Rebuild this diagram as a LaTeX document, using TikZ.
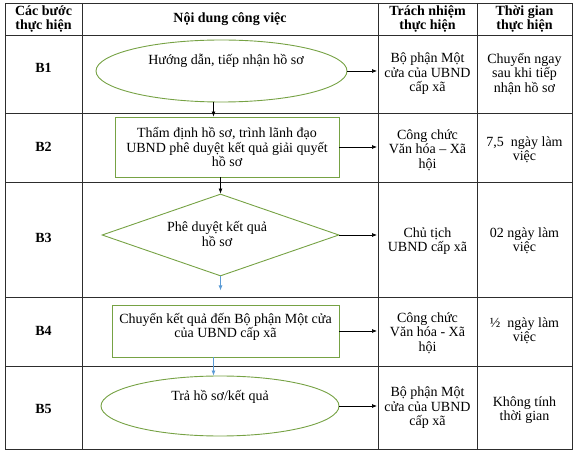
\documentclass[tikz,border=0pt]{standalone}
\usepackage{fontspec}
\setmainfont{Liberation Serif}
\usetikzlibrary{shapes.geometric, arrows.meta, positioning, calc}

\definecolor{shapegreen}{RGB}{118,162,68}
\definecolor{flowblue}{RGB}{91,155,213}
\definecolor{rulegray}{RGB}{45,45,45}

\begin{document}
\begin{tikzpicture}[
    x=1pt, y=-1pt,
    font=\fontsize{14}{14.5}\selectfont,
    grid/.style={draw=rulegray, line width=0.8pt},
    head/.style={font=\fontsize{14}{14.5}\selectfont\bfseries, align=center},
    steplbl/.style={font=\fontsize{14}{15}\selectfont\bfseries},
    cell/.style={align=center},
    oval/.style={ellipse, draw=shapegreen, line width=0.9pt, inner sep=0pt},
    box/.style={rectangle, draw=shapegreen, line width=0.9pt, inner sep=0pt,
                align=center},
    decision/.style={diamond, draw=shapegreen, line width=0.9pt, inner sep=0pt,
                     aspect=2.9},
    arrow/.style={-{Latex[length=5pt, width=4pt]}, line width=0.7pt, draw=black},
    bluearrow/.style={-{Latex[length=5pt, width=4pt]}, line width=0.7pt, draw=flowblue},
]

\useasboundingbox (0,0) rectangle (576,454);

% Table grid
\draw[grid] (5,3) rectangle (572,449);
\foreach \y in {35,113,182,297,366} \draw[grid] (5,\y) -- (572,\y);
\foreach \x in {82,378,477} \draw[grid] (\x,3) -- (\x,449);

% Column for the arrow ends
\coordinate (colR) at (377,0);

% Header
\node[head] (hstep) at (43.5,19) {Các bước\\thực hiện};
\node[head] (hwork) at (230,19) {Nội dung công việc};
\node[head] (hresp) at (427.5,19) {Trách nhiệm\\thực hiện};
\node[head] (htime) at (524.5,19) {Thời gian\\thực hiện};

% Step B1
\node[steplbl] (b1) at (43.5,68) {B1};
\node[oval, minimum width=251pt, minimum height=62pt] (s1) at (221.5,71) {};
\node[cell] (s1txt) at (226,61) {Hướng dẫn, tiếp nhận hồ sơ};
\node[cell] (r1) at (427.5,74) {Bộ phận Một\\cửa của UBND\\cấp xã};
\node[cell] (t1) at (524.5,74) {Chuyển ngay\\sau khi tiếp\\nhận hồ sơ};

% Step B2
\node[steplbl] (b2) at (43.5,147) {B2};
\node[box, minimum width=224pt, minimum height=60pt] (s2) at (227,147)
    {Thẩm định hồ sơ, trình lãnh đạo\\UBND phê duyệt kết quả giải quyết\\hồ sơ};
\node[cell] (r2) at (427.5,150) {Công chức\\Văn hóa – Xã\\hội};
\node[cell] (t2) at (524.5,150) {7,5\ \ ngày làm\\việc};

% Step B3
\node[steplbl] (b3) at (43.5,238) {B3};
\node[decision, minimum width=237pt, minimum height=82pt] (s3) at (220.5,235) {};
\node[cell] (s3txt) at (217,234) {Phê duyệt kết quả\\hồ sơ};
\node[cell] (r3) at (427.5,241) {Chủ tịch\\UBND cấp xã};
\node[cell] (t3) at (524.5,241) {02 ngày làm\\việc};

% Step B4
\node[steplbl] (b4) at (43.5,331) {B4};
\node[box, minimum width=227pt, minimum height=52pt] (s4) at (225.5,331) {};
\node[cell] (s4txt) at (225.5,327) {Chuyển kết quả đến Bộ phận Một cửa\\của UBND cấp xã};
\node[cell] (r4) at (427.5,333) {Công chức\\Văn hóa - Xã\\hội};
\node[cell] (t4) at (524.5,331) {½\ \ ngày làm\\việc};

% Step B5
\node[steplbl] (b5) at (43.5,409) {B5};
\node[oval, minimum width=238pt, minimum height=60pt] (s5) at (220,406) {};
\node[cell] (s5txt) at (220,397) {Trả hồ sơ/kết quả};
\node[cell] (r5) at (427.5,408) {Bộ phận Một\\cửa của UBND\\cấp xã};
\node[cell] (t5) at (524.5,410) {Không tính\\thời gian};

% Down arrows
\coordinate (s1out) at ($(s1.south)+(-8,0)$);
\draw[arrow] (s1out) -- (s1out |- s2.north);
\draw[arrow] (s2.south -| s3.north) -- (s3.north);
\coordinate (s3end) at ($(s3.south)+(0,14)$);
\draw[bluearrow] (s3.south) -- (s3end);
\coordinate (s4out) at ($(s4.south)+(-12,0)$);
\draw[bluearrow] (s4out) -- (s4out |- s5.north);

% Arrows to the responsibility column
\draw[arrow] (s1.east) -- (s1.east -| colR);
\draw[arrow] (s2.east) -- (s2.east -| colR);
\draw[arrow] (s3.east) -- (s3.east -| colR);
\draw[arrow] (s4.east) -- (s4.east -| colR);
\draw[arrow] (s5.east) -- (s5.east -| colR);

\end{tikzpicture}
\end{document}
